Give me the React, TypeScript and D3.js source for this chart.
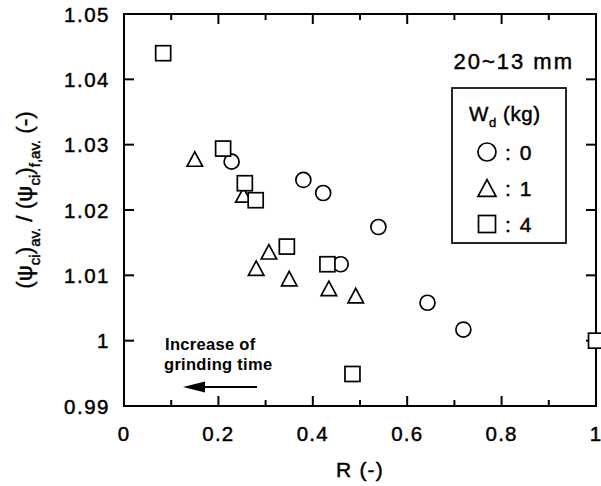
import React from "react";
import * as d3 from "d3";

const circleR = [0.228, 0.38, 0.422, 0.459, 0.539, 0.643, 0.719];
const circleV = [1.0274, 1.0246, 1.0226, 1.0117, 1.0174, 1.0058, 1.0017];
const triR = [0.15, 0.253, 0.28, 0.307, 0.35, 0.434, 0.491];
const triV = [1.0278, 1.0223, 1.0111, 1.0136, 1.0095, 1.008, 1.0069];
const sqR = [0.083, 0.21, 0.256, 0.279, 0.345, 0.431, 0.484, 1.0];
const sqV = [1.044, 1.0294, 1.0241, 1.0215, 1.0144, 1.0117, 0.9949, 1.0];

const xTickValues = [0, 0.1, 0.2, 0.3, 0.4, 0.5, 0.6, 0.7, 0.8, 0.9, 1];
const xTickLabels = ["0", "", "0.2", "", "0.4", "", "0.6", "", "0.8", "", "1"];
const yTickValues = [0.99, 1.0, 1.01, 1.02, 1.03, 1.04, 1.05];
const yTickLabels = ["0.99", "1", "1.01", "1.02", "1.03", "1.04", "1.05"];
const legendLabels = ["0", "1", "4"];

const W = 601;
const H = 486;
const L = 124, R = 596, T = 14, B = 406;
const FONT = "'Liberation Sans', Arial, Helvetica, sans-serif";
const TS = { stroke: "#000", strokeWidth: 0.45 };

function Circle({ cx, cy, r }: { cx: number; cy: number; r: number }) {
  return <circle cx={cx} cy={cy} r={r} fill="#fff" stroke="#000" strokeWidth={1.7} />;
}
function Tri({ cx, cy, s }: { cx: number; cy: number; s: number }) {
  const h = s * 0.93;
  const p = d3.path();
  p.moveTo(cx, cy - h / 2);
  p.lineTo(cx + s / 2, cy + h / 2);
  p.lineTo(cx - s / 2, cy + h / 2);
  p.closePath();
  return <path d={p.toString()} fill="#fff" stroke="#000" strokeWidth={1.7} strokeLinejoin="miter" />;
}
function Sq({ cx, cy, s }: { cx: number; cy: number; s: number }) {
  return <rect x={cx - s / 2} y={cy - s / 2} width={s} height={s} fill="#fff" stroke="#000" strokeWidth={1.7} />;
}

export default function App() {
  const x = d3.scaleLinear().domain([0, 1]).range([L, R]);
  const y = d3.scaleLinear().domain([0.99, 1.05]).range([B, T]);

  const arrowHead = d3.path();
  arrowHead.moveTo(183, 387);
  arrowHead.lineTo(205, 381.5);
  arrowHead.lineTo(205, 392.5);
  arrowHead.closePath();

  return (
    <svg width={W} height={H} style={{ position: "absolute", left: 0, top: 0, background: "#fff" }} fontFamily={FONT}>
      <rect x={0} y={0} width={W} height={H} fill="#fff" />
      <rect x={L} y={T} width={R - L} height={B - T} fill="none" stroke="#000" strokeWidth={2} />
      {xTickValues.map((v, i) => {
        const len = i % 2 === 0 ? 10 : 6;
        return (
          <g key={"xt" + i}>
            <line x1={x(v)} x2={x(v)} y1={B} y2={B - len} stroke="#000" strokeWidth={2} />
            <line x1={x(v)} x2={x(v)} y1={T} y2={T + len} stroke="#000" strokeWidth={2} />
            {xTickLabels[i] && (
              <text x={x(v)} y={441} textAnchor="middle" fontSize={20.5} letterSpacing={1.2} {...TS}>
                {xTickLabels[i]}
              </text>
            )}
          </g>
        );
      })}
      {yTickValues.map((v, i) => (
        <g key={"yt" + i}>
          <line x1={L} x2={L + 10} y1={y(v)} y2={y(v)} stroke="#000" strokeWidth={2} />
          <line x1={R} x2={R - 10} y1={y(v)} y2={y(v)} stroke="#000" strokeWidth={2} />
          <text x={110} y={y(v) + 7.5} textAnchor="end" fontSize={20.5} letterSpacing={1.5} {...TS}>
            {yTickLabels[i]}
          </text>
        </g>
      ))}

      <text x={360} y={477} textAnchor="middle" fontSize={21} letterSpacing={1.2} {...TS}>
        R (-)
      </text>
      <text transform="translate(32,200) rotate(-90)" textAnchor="middle" fontSize={22.5} {...TS}>
        <tspan>(ψ</tspan>
        <tspan fontSize={15} dy={8}>ci</tspan>
        <tspan dy={-8}>)</tspan>
        <tspan fontSize={15} dy={8}>av.</tspan>
        <tspan dy={-8}> / (ψ</tspan>
        <tspan fontSize={15} dy={8}>ci</tspan>
        <tspan dy={-8}>)</tspan>
        <tspan fontSize={15} dy={8}>f,av.</tspan>
        <tspan dy={-8}> (-)</tspan>
      </text>

      {circleR.map((r, i) => (
        <Circle key={"c" + i} cx={x(r)} cy={y(circleV[i])} r={7.5} />
      ))}
      {triR.map((r, i) => (
        <Tri key={"t" + i} cx={x(r)} cy={y(triV[i])} s={15.5} />
      ))}
      {sqR.map((r, i) => (
        <Sq key={"s" + i} cx={x(r)} cy={y(sqV[i])} s={15} />
      ))}

      <text x={574} y={69} textAnchor="end" fontSize={22} letterSpacing={2} {...TS}>
        20~13 mm
      </text>

      <rect x={452} y={88} width={114} height={155} fill="#fff" stroke="#000" strokeWidth={1.7} />
      <text x={469} y={121} fontSize={20.5} letterSpacing={0.6} {...TS}>
        <tspan>W</tspan>
        <tspan fontSize={13} dy={6}>d</tspan>
        <tspan dy={-6}> (kg)</tspan>
      </text>
      <Circle cx={487} cy={152} r={9} />
      <Tri cx={487} cy={188} s={18} />
      <Sq cx={487} cy={224} s={17} />
      {legendLabels.map((lab, i) => (
        <text key={"ll" + i} x={505} y={160 + i * 36} fontSize={21} letterSpacing={1.5} {...TS}>
          {": " + lab}
        </text>
      ))}

      <text x={165} y={350} fontSize={16.5} fontWeight="bold" letterSpacing={0.3}>
        Increase of
      </text>
      <text x={164} y={370} fontSize={16.5} fontWeight="bold" letterSpacing={0.3}>
        grinding time
      </text>
      <line x1={200} x2={257} y1={387} y2={387} stroke="#000" strokeWidth={2} />
      <path d={arrowHead.toString()} fill="#000" />
    </svg>
  );
}
